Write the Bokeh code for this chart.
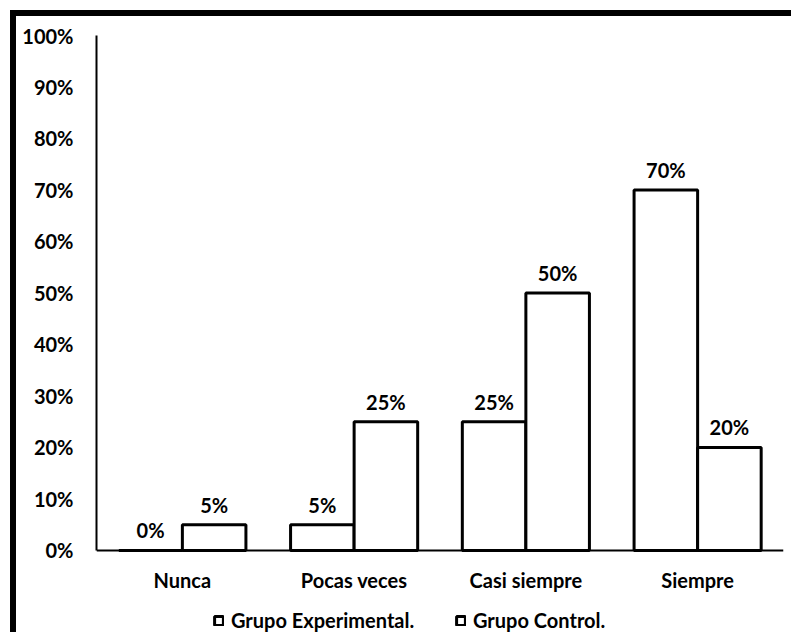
from bokeh.plotting import figure
from bokeh.models import (ColumnDataSource, FactorRange, FixedTicker, PrintfTickFormatter,
                          LabelSet, Legend, LegendItem)
from bokeh.core.properties import value
from bokeh.transform import dodge
from bokeh.embed import file_html
from bokeh.resources import INLINE

categories = ["Nunca", "Pocas veces", "Casi siempre", "Siempre"]
experimental = [0, 5, 25, 70]
control = [5, 25, 50, 20]
series_names = ["Grupo Experimental.", "Grupo Control."]
y_ticks = [0, 10, 20, 30, 40, 50, 60, 70, 80, 90, 100]

FONT = "Lato"
FS = "20px"

src = ColumnDataSource(dict(
    cat=categories,
    exp=experimental,
    ctl=control,
    exp_lbl=[f"{v}%" for v in experimental],
    ctl_lbl=[f"{v}%" for v in control],
))

# frame runs down to the bottom of the canvas so the legend can sit inside it
p = figure(x_range=FactorRange(*categories, range_padding=0), y_range=(-17.09, 100),
           width=781, height=622, output_backend="svg", toolbar_location=None,
           min_border_left=80, min_border_right=14, min_border_top=19, min_border_bottom=0)
p.styles = {"border-left": "6px solid black", "border-top": "6px solid black",
            "margin-left": "10px", "margin-top": "10px"}
p.outline_line_color = None
p.grid.grid_line_color = None
p.background_fill_color = "white"
p.border_fill_color = "white"

bw = 0.37
r_exp = p.vbar(x=dodge("cat", -bw / 2, range=p.x_range), top="exp", width=bw, source=src,
               fill_color="white", line_color="black", line_width=3)
r_ctl = p.vbar(x=dodge("cat", bw / 2, range=p.x_range), top="ctl", width=bw, source=src,
               fill_color="white", line_color="black", line_width=3)

for col, top, off in (("exp_lbl", "exp", -bw / 2), ("ctl_lbl", "ctl", bw / 2)):
    p.add_layout(LabelSet(x=dodge("cat", off, range=p.x_range), y=top, text=col, source=src,
                          text_align="center", text_baseline="bottom", y_offset=8,
                          text_font=value(FONT), text_font_style="bold", text_font_size=FS,
                          text_color="black"))

p.yaxis.ticker = FixedTicker(ticks=y_ticks)
p.yaxis.formatter = PrintfTickFormatter(format="%d%%")
p.yaxis.bounds = (0, 100)
p.xaxis.fixed_location = 0
for ax in (p.xaxis, p.yaxis):
    ax.major_tick_line_color = None
    ax.minor_tick_line_color = None
    ax.axis_line_color = "black"
    ax.axis_line_width = 2
    ax.major_label_text_font = FONT
    ax.major_label_text_font_style = "bold"
    ax.major_label_text_font_size = FS
    ax.major_label_text_color = "black"
p.yaxis.major_label_standoff = 17
p.xaxis.major_label_standoff = 12

for r, name, xloc in ((r_exp, series_names[0], 117), (r_ctl, series_names[1], 359)):
    lg = Legend(items=[LegendItem(label=name, renderers=[r])], location=(xloc, 6),
                orientation="horizontal", background_fill_alpha=0, border_line_color=None,
                margin=0, padding=0, glyph_width=11, glyph_height=11, label_standoff=7,
                label_text_font=FONT, label_text_font_style="bold", label_text_font_size=FS,
                label_text_color="black")
    p.add_layout(lg, "center")

open("out.html", "w").write(file_html(p, INLINE))
